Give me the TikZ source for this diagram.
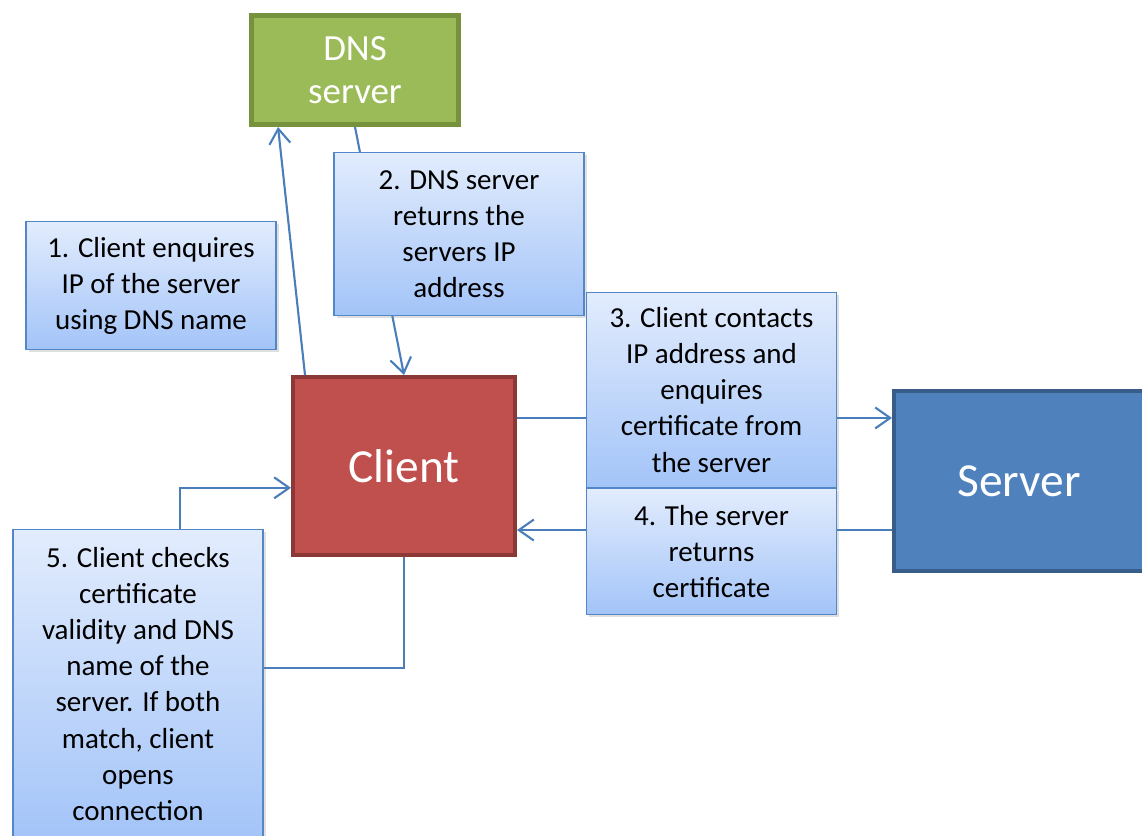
\documentclass[tikz,border=0pt]{standalone}
\usepackage{fontspec}
\setmainfont{Carlito}
\usetikzlibrary{arrows.meta,calc,shadows}
\definecolor{dnsfill}{HTML}{9BBB59}
\definecolor{dnsedge}{HTML}{76923C}
\definecolor{clientfill}{HTML}{C0504D}
\definecolor{clientedge}{HTML}{8C3836}
\definecolor{serverfill}{HTML}{4F81BD}
\definecolor{serveredge}{HTML}{385D8A}
\definecolor{linkblue}{HTML}{4A7EBB}
\definecolor{notetop}{HTML}{E2ECFD}
\definecolor{notebot}{HTML}{A3C4F8}
\definecolor{noteedge}{HTML}{5487C8}

\begin{document}
\begin{tikzpicture}[
    bigbox/.style={rectangle, inner sep=0pt, align=center, text=white},
    note/.style={rectangle, draw=noteedge, line width=0.8pt, top color=notetop, bottom color=notebot,
        inner sep=0pt, align=center, minimum width=5.0cm, font=\fontsize{16.5}{20.5}\selectfont,
        drop shadow={shadow xshift=0.05cm, shadow yshift=-0.05cm, opacity=0.25}},
    link/.style={draw=linkblue, line width=1.2pt, -{Straight Barb[length=3mm,width=4.2mm]}}
]
    \useasboundingbox (0,0) rectangle (22.84,-16.72);

    \node[bigbox, fill=dnsfill, draw=dnsedge, line width=0.1cm, minimum width=4.14cm, minimum height=2.18cm,
        font=\fontsize{21}{24.4}\selectfont] (dns) at (7.10,-1.40) {DNS\\server};
    \node[bigbox, fill=clientfill, draw=clientedge, line width=0.08cm, minimum width=4.44cm, minimum height=3.56cm,
        font=\fontsize{27}{32}\selectfont] (client) at (8.08,-9.32) {Client};
    \node[bigbox, fill=serverfill, draw=serveredge, line width=0.08cm, minimum width=5.0cm, minimum height=3.6cm,
        font=\fontsize{27}{32}\selectfont] (server) at (20.38,-9.62) {Server};

    % connectors
    \coordinate (c1) at ($(client.north west)!0.062!(client.north east)$);
    \coordinate (d1) at ($(dns.south west)!0.137!(dns.south east)$);
    \draw[link] (c1) -- (d1);
    \draw[link] (dns.south) -- (client.north);
    \coordinate (c3) at ($(client.north east)!0.236!(client.south east)$);
    \draw[link] (c3) -- (c3 -| server.west);
    \coordinate (c4) at ($(client.north east)!0.852!(client.south east)$);
    \draw[link] (c4 -| server.west) -- (c4);
    \coordinate (c5) at ($(client.north west)!0.62!(client.south west)$);
    \coordinate (bend) at (3.60,-13.36);
    \draw[link] (client.south) |- (bend) |- (c5);

    % steps
    \node[note, minimum height=2.55cm] (step1) at (3.02,-5.71) {1. Client enquires\\IP of the server\\using DNS name};
    \node[note, minimum height=3.25cm] (step2) at (9.18,-4.68) {2. DNS server\\returns the\\servers IP\\address};
    \node[note, minimum height=3.89cm] (step3) at (14.23,-7.80) {3. Client contacts\\IP address and\\enquires\\certificate from\\the server};
    \node[note, minimum height=2.51cm] (step4) at (14.23,-11.03) {4. The server\\returns\\certificate};
    \node[note, minimum height=6.17cm] (step5) at (2.76,-13.68) {5. Client checks\\certificate\\validity and DNS\\name of the\\server. If both\\match, client\\opens\\connection};
\end{tikzpicture}
\end{document}
